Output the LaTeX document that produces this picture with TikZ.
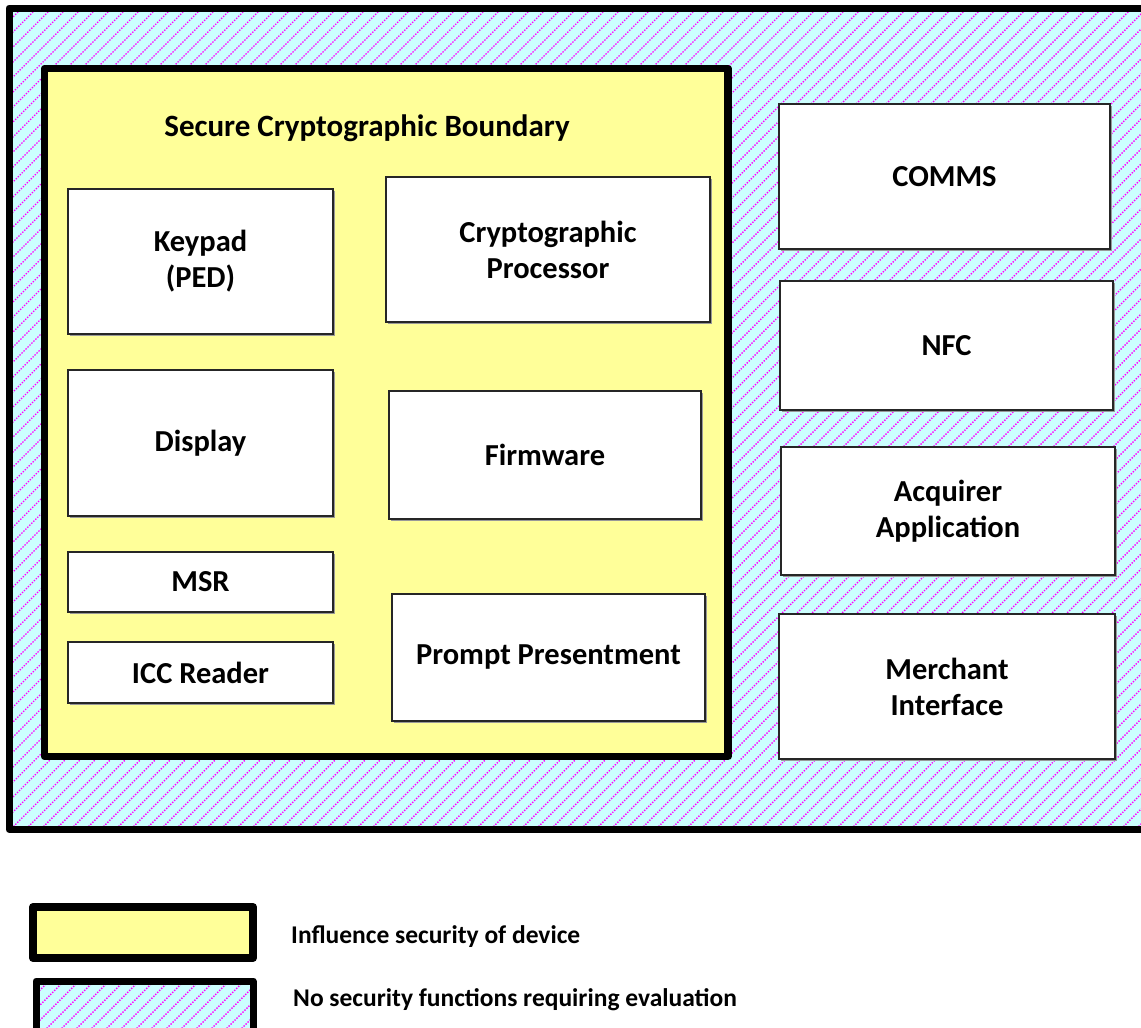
\documentclass[tikz,border=0pt]{standalone}
\usepackage{fontspec}
\setmainfont{Carlito}
\usetikzlibrary{shadows}
\definecolor{hatchbg}{HTML}{CCFFFF}
\definecolor{hatchfg}{HTML}{FF00FF}
\definecolor{secyellow}{HTML}{FFFF99}
\begin{document}
\begin{tikzpicture}[x=1pt,y=-1pt,
  comp/.style={draw=black!85, line width=1.2pt, fill=white, align=center,
    font=\fontsize{30.5}{36}\selectfont\bfseries, inner sep=0pt,
    drop shadow={shadow xshift=1.5pt,shadow yshift=-1.5pt,fill=black!40,opacity=1}},
  hatchline/.style={hatchfg, line width=1.4pt, dash pattern=on 1.4pt off 1.4pt},
  thickframe/.style={draw=black, line join=round, inner sep=0pt},
  legtext/.style={anchor=west, inner sep=0pt, font=\fontsize{25.5}{30}\selectfont\bfseries}]
\useasboundingbox (0,0) rectangle (1141,1028);
\clip (0,0) rectangle (1141,1028);
% outer hatched region
\begin{scope}
  \clip (9,8) rectangle (1160,829.5);
  \fill[hatchbg] (9,8) rectangle (1160,829.5);
  \foreach \c in {0,15,...,2010} \draw[hatchline] (\c,0) -- ++(-1000,1000);
\end{scope}
\node[thickframe, line width=7pt, minimum width=1151pt, minimum height=821.5pt] (outer) at (584.5,418.75) {};
% secure boundary
\node[thickframe, line width=7.5pt, fill=secyellow, minimum width=683.5pt, minimum height=688pt] (boundary) at (386.25,412.5) {};
\node[inner sep=0pt, font=\fontsize{31}{36}\selectfont\bfseries] (title) at (367,128) {Secure Cryptographic Boundary};
% components inside
\node[comp, minimum width=265pt, minimum height=145pt] (keypad) at (200.5,261.5) {Keypad\\(PED)};
\node[comp, minimum width=324pt, minimum height=145pt] (crypto) at (548,249.5) {Cryptographic\\Processor};
\node[comp, minimum width=265pt, minimum height=146pt] (display) at (200.5,443) {Display};
\node[comp, minimum width=312pt, minimum height=128pt] (firmware) at (545,455) {Firmware};
\node[comp, minimum width=265pt, minimum height=60pt] (msr) at (200.5,582) {MSR};
\node[comp, minimum width=265pt, minimum height=61pt] (icc) at (200.5,672.5) {ICC Reader};
\node[comp, minimum width=313pt, minimum height=127pt] (prompt) at (548.5,657.5) {Prompt Presentment};
% components outside
\node[comp, minimum width=331pt, minimum height=145pt] (comms) at (944.5,176.5) {COMMS};
\node[comp, minimum width=333pt, minimum height=129pt] (nfc) at (946.5,345.5) {NFC};
\node[comp, minimum width=334pt, minimum height=128pt] (acquirer) at (948,511) {Acquirer\\Application};
\node[comp, minimum width=336pt, minimum height=145pt] (merchant) at (947,686.5) {Merchant\\Interface};
% legend
\node[thickframe, line width=8pt, fill=secyellow, minimum width=220pt, minimum height=51pt] (legY) at (143,932.5) {};
\begin{scope}
  \clip (36,981) rectangle (253,1032);
  \fill[hatchbg] (36,981) rectangle (253,1032);
  \foreach \c in {30,45,...,360} \draw[hatchline] (\c,970) -- ++(-80,80);
\end{scope}
\node[thickframe, line width=7pt, minimum width=217pt, minimum height=51pt] (legH) at (144.5,1006.5) {};
\node[legtext] (legYtext) at (291,937) {Influence security of device};
\node[legtext] (legHtext) at (293,1000) {No security functions requiring evaluation};
\end{tikzpicture}
\end{document}
